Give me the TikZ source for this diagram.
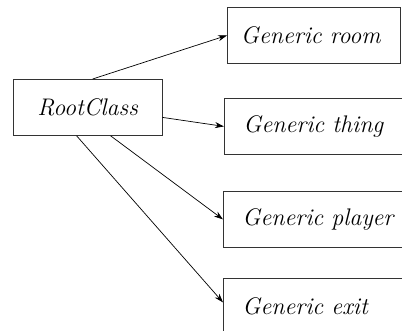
\documentclass[tikz,border=0pt]{standalone}
\usepackage{fontspec}
\usetikzlibrary{positioning,arrows.meta}

\begin{document}
\begin{tikzpicture}[
                x=1pt, y=-1pt,
                classbox/.style={draw=black!80, line width=0.8pt, anchor=north west,
                    minimum height=56pt, inner xsep=19pt,
                    font=\fontsize{24}{29}\selectfont\itshape},
                childbox/.style={classbox, align=left, text width=170pt},
                link/.style={line width=0.7pt, -{Stealth[length=9pt,width=6pt]}}
            ]
                \clip (0,0) rectangle (402,330);
                \useasboundingbox (0,0) rectangle (402,330);

                % Root of the hierarchy
                \node[classbox, minimum width=149pt] (root) at (12.7,79) {RootClass};

                % Subclasses
                \node[classbox, align=left, text width=146pt, inner xsep=13.5pt] (room) at (227,7) {Generic room};
                \node[childbox] (thing) at (224,98) {Generic thing};
                \node[childbox] (player) at (223,191) {Generic player};
                \node[childbox] (exit) at (223,278) {Generic exit};

                \draw[link] ([xshift=5pt]root.north) -- (room.west);
                \draw[link] ([yshift=-10pt]root.east) -- (thing.west);
                \draw[link] ([xshift=23pt]root.south) -- (player.west);
                \draw[link] ([xshift=-11pt]root.south) -- ([yshift=4pt]exit.west);
            \end{tikzpicture}
\end{document}
